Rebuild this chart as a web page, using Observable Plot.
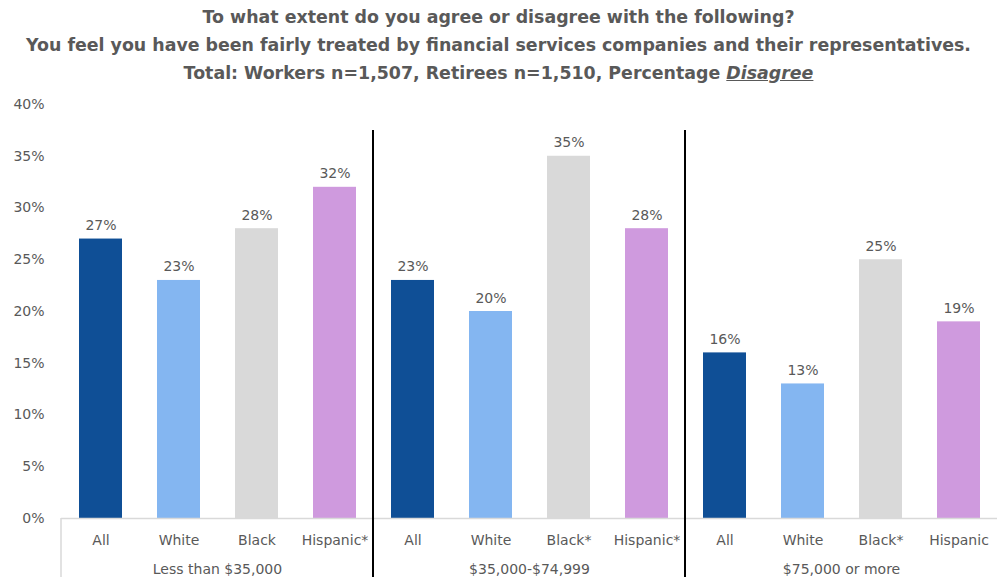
<!DOCTYPE html>
<html>
<head>
<meta charset="utf-8">
<script src="https://cdn.jsdelivr.net/npm/d3@7"></script>
<script src="https://cdn.jsdelivr.net/npm/@observablehq/plot@0.6"></script>
<style>
  html, body { margin: 0; padding: 0; background: #fff; }
  body { width: 997px; height: 577px; overflow: hidden; font-family: "DejaVu Sans", sans-serif; }
  #title { height: 92px; box-sizing: border-box; padding-top: 3px; text-align: center; font-weight: bold; font-size: 17.4px; line-height: 28px; color: #595959; white-space: nowrap; }
  #title em { text-decoration: underline; }
</style>
</head>
<body>
<div id="title">
  <div>To what extent do you agree or disagree with the following?</div>
  <div>You feel you have been fairly treated by financial services companies and their representatives.</div>
  <div>Total: Workers n=1,507, Retirees n=1,510, Percentage <em>Disagree</em></div>
</div>
<div id="chart"></div>
<script>
const groups = ["Less than $35,000", "$35,000-$74,999", "$75,000 or more"];
const keys = ["All", "White", "Black", "Hispanic"];
const labels = [
  ["All", "White", "Black", "Hispanic*"],
  ["All", "White", "Black*", "Hispanic*"],
  ["All", "White", "Black*", "Hispanic"]
];
const values = [
  [27, 23, 28, 32],
  [23, 20, 35, 28],
  [16, 13, 25, 19]
];
const colors = ["#0f4f96", "#84b6f1", "#d9d9d9", "#cf9ade"];
const yTicks = [0, 5, 10, 15, 20, 25, 30, 35, 40];

const data = [];
groups.forEach((g, gi) => keys.forEach((k, ki) => {
  data.push({group: g, key: k, label: labels[gi][ki], value: values[gi][ki]});
}));

const W = 997, H = 485;
const FONT = "'DejaVu Sans', sans-serif";
const chart = Plot.plot({
  width: W,
  height: H,
  marginLeft: 60,
  marginRight: 0,
  marginTop: 12,
  marginBottom: 59,
  style: {fontFamily: FONT, fontSize: "14px", color: "#595959", background: "#fff"},
  fx: {domain: groups, padding: 0, label: null, axis: null},
  x: {domain: keys, paddingInner: 0.45, paddingOuter: 0.225, label: null, axis: null},
  y: {domain: [0, 40], label: null, axis: null},
  color: {domain: keys, range: colors},
  marks: [
    Plot.axisY({ticks: yTicks, tickSize: 0, tickPadding: 17, tickFormat: d => d + "%", fill: "#595959", fontSize: 14, label: null}),
    Plot.axisFx({anchor: "bottom", tickSize: 0, tickPadding: 46, fill: "#595959", fontSize: 14, label: null}),
    Plot.barY(data, {fx: "group", x: "key", y: "value", fill: "key"}),
    Plot.ruleY([0], {stroke: "#d9d9d9", strokeWidth: 1.5}),
    Plot.text(data, {fx: "group", x: "key", y: "value", text: d => d.value + "%", dy: -9, lineAnchor: "bottom", fill: "#595959", fontSize: 14}),
    Plot.text(data, {fx: "group", x: "key", y: 0, text: "label", dy: 22, lineAnchor: "middle", fill: "#595959", fontSize: 14})
  ]
});
document.getElementById("chart").appendChild(chart);

// group dividers and left category-axis edge, positioned through Plot's own scales
const fxS = Plot.scale({fx: chart.scale("fx")});
const yS = Plot.scale({y: chart.scale("y")});
const svg = d3.select(chart.tagName.toLowerCase() === "svg" ? chart : chart.querySelector("svg"));
const y0 = yS.apply(0);
svg.append("line")
  .attr("x1", fxS.apply(groups[0])).attr("x2", fxS.apply(groups[0]))
  .attr("y1", y0).attr("y2", H)
  .attr("stroke", "#d9d9d9").attr("stroke-width", 1.5);
groups.slice(1).forEach(g => {
  const x = fxS.apply(g);
  svg.append("line")
    .attr("x1", x).attr("x2", x)
    .attr("y1", yS.apply(37.5)).attr("y2", H)
    .attr("stroke", "#000").attr("stroke-width", 2);
});
</script>
</body>
</html>
